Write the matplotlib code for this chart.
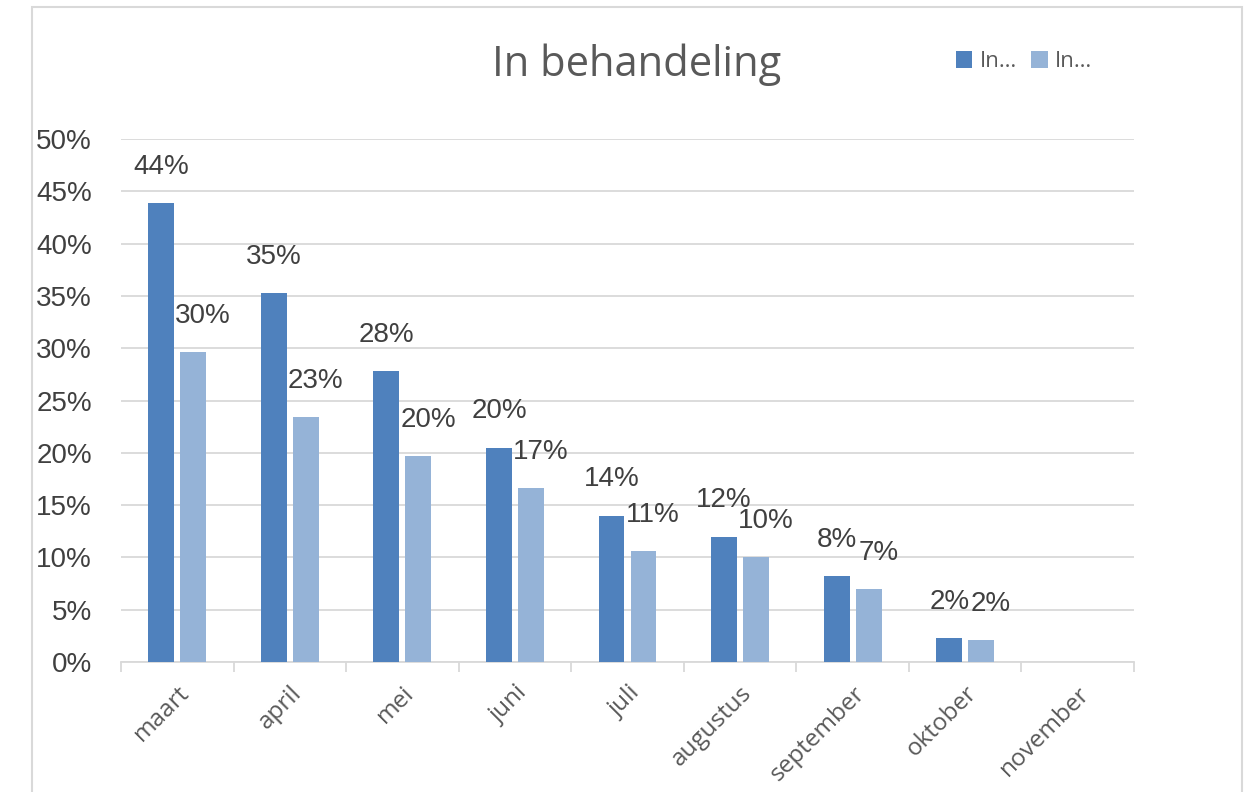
import matplotlib.pyplot as plt
from matplotlib.patches import Rectangle
from matplotlib.ticker import FuncFormatter
import numpy as np

# Data
months = ['maart', 'april', 'mei', 'juni', 'juli', 'augustus', 'september', 'oktober', 'november']
series_a = [0.439, 0.353, 0.278, 0.205, 0.140, 0.120, 0.082, 0.023, 0.0]
series_b = [0.296, 0.234, 0.197, 0.166, 0.106, 0.100, 0.070, 0.021, 0.0]
labels_a = ['44%', '35%', '28%', '20%', '14%', '12%', '8%', '2%', None]
labels_b = ['30%', '23%', '20%', '17%', '11%', '10%', '7%', '2%', None]
legend_names = ['In…', 'In…']

dark = '#4F81BD'
light = '#95B3D7'
grid_col = '#D9D9D9'
text_col = '#404040'

fig = plt.figure(figsize=(12.56, 7.92), dpi=100)
ax = fig.add_axes([0.0963, 0.1641, 0.8066, 0.6604])

# chart area border
fig.patches.append(Rectangle((32 / 1256, -0.1), (1242 - 32) / 1256, 1.1 - 7 / 792,
                             transform=fig.transFigure, fill=False,
                             edgecolor=grid_col, linewidth=1.5))

x = np.arange(len(months))
w = 0.23
off = 0.142
ax.bar(x - off, series_a, w, color=dark, label=legend_names[0], zorder=3)
ax.bar(x + off, series_b, w, color=light, label=legend_names[1], zorder=3)

for xi, v, t in zip(x, series_a, labels_a):
    if t:
        ax.annotate(t, (xi - off, v), xytext=(0, 26), textcoords='offset points',
                    ha='center', va='center', fontsize=20, color=text_col,
                    family='Liberation Sans')
for xi, v, t in zip(x, series_b, labels_b):
    if t:
        ax.annotate(t, (xi + off, v), xytext=(7, 26), textcoords='offset points',
                    ha='center', va='center', fontsize=20, color=text_col,
                    family='Liberation Sans')

ax.set_xlim(-0.5, len(months) - 0.5)
ax.set_ylim(0, 0.5)
ax.set_yticks(np.arange(0, 0.51, 0.05))
ax.yaxis.set_major_formatter(FuncFormatter(lambda v, p: f'{round(v * 100)}%'))
ax.tick_params(axis='y', length=0, labelsize=20, labelcolor=text_col, pad=21)
for lbl in ax.get_yticklabels():
    lbl.set_family('Liberation Sans')
ax.grid(axis='y', color=grid_col, linewidth=1.3, zorder=0)

ax.set_xticks(x)
ax.set_xticklabels(months, rotation=45, ha='right', rotation_mode='anchor',
                   fontsize=17.5, color='#595959', family='Open Sans')
ax.tick_params(axis='x', which='major', length=0, pad=14)
ax.set_xticks(np.arange(-0.5, len(months)), minor=True)
ax.tick_params(axis='x', which='minor', length=7, width=1.3, color=grid_col)

for s in ['top', 'right', 'left']:
    ax.spines[s].set_visible(False)
ax.spines['bottom'].set_color(grid_col)
ax.spines['bottom'].set_linewidth(1.3)

fig.text(0.507, 0.918, 'In behandeling', ha='center', va='center',
         fontsize=30, color='#595959', family='Open Sans')

fig.legend(loc='center left', bbox_to_anchor=(0.761, 0.922), ncol=2, frameon=False,
           borderpad=0, borderaxespad=0,
           handlelength=0.75, handleheight=0.75, handletextpad=0.35,
           columnspacing=0.6, labelcolor='#595959', prop={'family': 'Open Sans', 'size': 16})

fig.savefig('out.png', dpi=100)
